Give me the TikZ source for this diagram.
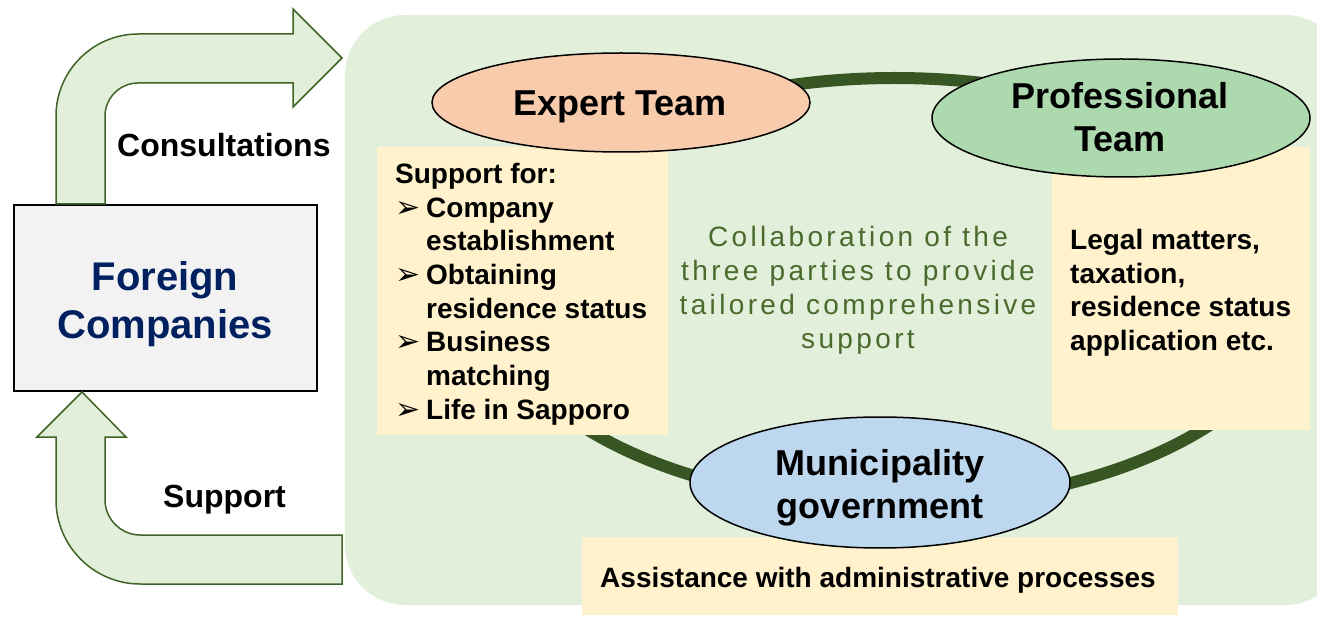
\documentclass[tikz,border=0pt]{standalone}
\usepackage{fontspec}
\setmainfont{Liberation Sans}
\newfontfamily\dejavu{DejaVu Sans}
\newfontfamily\spacedfont[LetterSpace=12]{Liberation Sans}
\usetikzlibrary{shapes.geometric}
\definecolor{bggreen}{HTML}{E2EFDA}
\definecolor{arrowgreen}{HTML}{3F6427}
\definecolor{ringgreen}{HTML}{375623}
\definecolor{noteyellow}{HTML}{FFF2CC}
\definecolor{expertfill}{HTML}{F8CBAD}
\definecolor{profill}{HTML}{ADD9AE}
\definecolor{munifill}{HTML}{BDD7EE}
\definecolor{boxgray}{HTML}{F2F2F2}
\definecolor{navy}{HTML}{002060}
\definecolor{midtext}{HTML}{4A6A2E}
\newcommand\bitem{\makebox[31pt][l]{\dejavu\fontsize{30}{30}\selectfont ➢}}
\newcommand\bind{\hspace*{31pt}}
\tikzset{
  bubble/.style={ellipse, draw=black, line width=1.5pt, inner sep=0pt},
  bubbletext/.style={font=\fontsize{36}{43}\selectfont\bfseries, align=center, inner sep=0pt},
  notebox/.style={fill=noteyellow, draw=none, inner sep=0pt, anchor=north west},
  bigarrow/.style={fill=bggreen, draw=arrowgreen, line width=1.5pt, line join=miter},
  lbl/.style={font=\fontsize{32}{38}\selectfont\bfseries, inner sep=0pt, anchor=base west},
  listtext/.style={font=\fontsize{28}{33.7}\selectfont\bfseries, align=left, inner sep=0pt, anchor=north west},
}
\begin{document}
\begin{tikzpicture}[x=1pt,y=-1pt]
\useasboundingbox (0,0) rectangle (1317,617);
\begin{scope}
\clip (0,0) rectangle (1317,617);
\fill[bggreen, rounded corners=60pt] (345,15) rectangle (1345,605);
\end{scope}
% ring
\draw[ringgreen, line width=12pt] (895,291) ellipse [x radius=405, y radius=213];
% yellow boxes
\node[notebox, minimum width=291pt, minimum height=288pt] (lbox) at (377,147) {};
\node[notebox, minimum width=258pt, minimum height=283pt] (rbox) at (1052,147) {};
\node[notebox, minimum width=596pt, minimum height=78pt] (bbox) at (582,537) {};
% ellipses
\node[bubble, fill=expertfill, minimum width=378pt, minimum height=99pt] (expert) at (621,102.5) {};
\node[bubble, fill=profill, minimum width=378pt, minimum height=118pt] (pro) at (1121,118) {};
\node[bubble, fill=munifill, minimum width=380pt, minimum height=131pt] (muni) at (880,482.5) {};
\node[bubbletext] (expertt) at (620,107) {Expert Team};
\node[bubbletext] (prot) at (1120,117.5) {Professional\\Team};
\node[bubbletext] (munit) at (880,488) {Municipality\\government};
% foreign companies
\node[draw=black, line width=2pt, fill=boxgray, minimum width=303pt, minimum height=186pt, inner sep=0pt] (fc) at (165,298.5) {};
\node[font=\fontsize{40}{48}\selectfont\bfseries, text=navy, align=center, inner sep=0pt] (fct) at (165,304) {Foreign\\Companies};
% arrows
\draw[bigarrow] (56,204) -- (56,116) .. controls (56,71) and (93,34) .. (138,34) -- (293,34) -- (293,9) -- (342,58) -- (293,107) -- (293,83) -- (138,83) .. controls (120,83) and (105,98) .. (105,116) -- (105,204) -- cycle;
\draw[bigarrow] (82,392) -- (126,437) -- (105,437) -- (105,500) .. controls (105,519) and (121,535) .. (140,535) -- (342,535) -- (342,584) -- (140,584) .. controls (94,584) and (56,546) .. (56,500) -- (56,437) -- (37,437) -- cycle;
\node[lbl] (cons) at (117,157) {Consultations};
\node[lbl] (supp) at (163,507) {Support};
% texts
\node[listtext] (ltext) at (395,163) {Support for:\\\bitem Company\\\bind establishment\\\bitem Obtaining\\\bind residence status\\\bitem Business\\\bind matching\\\bitem Life in Sapporo};
\node[listtext] (rtext) at (1070,229) {Legal matters,\\taxation,\\residence status\\application etc.};
\node[font=\fontsize{28}{33.7}\selectfont\bfseries, inner sep=0pt] (btext) at (878,580) {Assistance with administrative processes};
\node[font=\spacedfont\fontsize{28}{34}\selectfont, text=midtext, align=center, inner sep=0pt] (mid) at (858,290) {Collaboration of the\\three parties to provide\\tailored comprehensive\\support};
\end{tikzpicture}
\end{document}
